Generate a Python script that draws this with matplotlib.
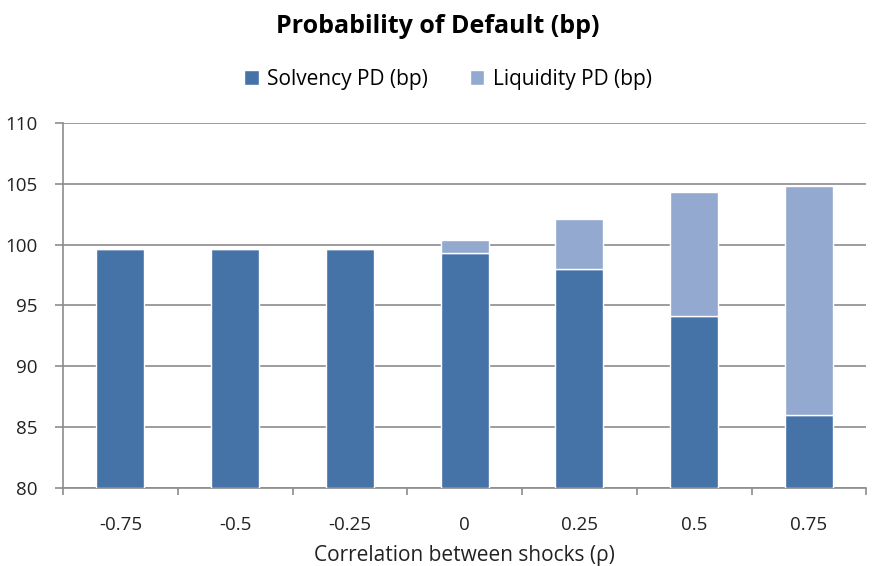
import numpy as np
import matplotlib.pyplot as plt
from matplotlib.ticker import FixedLocator

plt.rcParams['font.family'] = ['Open Sans', 'DejaVu Sans']

rho_labels = ['-0.75', '-0.5', '-0.25', '0', '0.25', '0.5', '0.75']
solvency_pd = [99.6, 99.6, 99.6, 99.3, 98.0, 94.1, 86.0]
liquidity_pd = [0.0, 0.0, 0.0, 1.1, 4.1, 10.2, 18.8]

solvency_color = '#4572A7'
liquidity_color = '#93A9CF'
grid_color = '#8c8c8c'

fig = plt.figure(figsize=(8.75, 5.66), dpi=100)
ax = fig.add_axes([0.072, 0.138, 0.918, 0.645])

x = np.arange(len(rho_labels))
w = 0.42
base = 80
ax.bar(x, np.array(solvency_pd) - base, w, bottom=base, color=solvency_color,
       edgecolor='white', linewidth=1, label='Solvency PD (bp)', zorder=3)
ax.bar(x, liquidity_pd, w, bottom=solvency_pd, color=liquidity_color,
       edgecolor='white', linewidth=1, label='Liquidity PD (bp)', zorder=3)

ax.set_ylim(80, 110)
ax.set_xlim(-0.5, len(rho_labels) - 0.5)
ax.set_yticks(np.arange(80, 111, 5))
ax.yaxis.grid(True, color=grid_color, linewidth=1.2, zorder=0)
ax.set_xticks(x)
ax.set_xticklabels(rho_labels)
ax.xaxis.set_minor_locator(FixedLocator(np.arange(-0.5, len(rho_labels), 1)))
ax.tick_params(axis='x', which='major', length=0, pad=20, labelsize=13.5, colors='#222222')
ax.tick_params(axis='x', which='minor', length=5, color=grid_color, width=1.2)
ax.tick_params(axis='y', length=6, color=grid_color, width=1.2, labelsize=13.5,
               pad=12, labelcolor='#222222')

for s in ['top', 'right']:
    ax.spines[s].set_visible(False)
for s in ['left', 'bottom']:
    ax.spines[s].set_color(grid_color)
    ax.spines[s].set_linewidth(1.2)

ax.set_xlabel('Correlation between shocks (ρ)', fontsize=15, labelpad=8, color='#222222')

fig.suptitle('Probability of Default (bp)', fontsize=18, fontweight='bold', y=0.975)
fig.legend(loc='center', bbox_to_anchor=(0.512, 0.86), ncol=2, frameon=False,
           fontsize=15, handlelength=0.7, handleheight=0.7, columnspacing=2.0,
           handletextpad=0.4)

fig.savefig('out.png', dpi=100)
